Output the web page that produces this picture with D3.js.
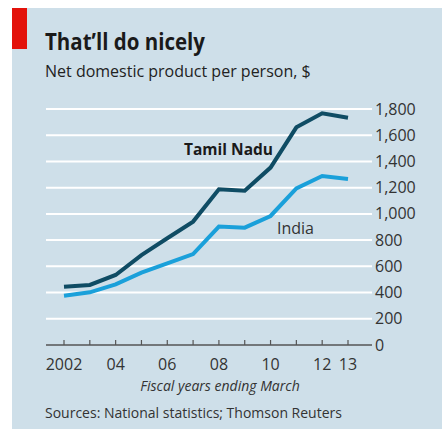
<!DOCTYPE html>
<html><head><meta charset="utf-8">
<script src="https://cdn.jsdelivr.net/npm/d3@7"></script>
<style>body{margin:0;background:#fff}svg{display:block}</style>
</head><body>
<svg id="c" width="442" height="429"></svg>
<script>
const years = [2002,2003,2004,2005,2006,2007,2008,2009,2010,2011,2012,2013];
const tamilNadu = [445,458,534,686,814,941,1187,1177,1353,1660,1767,1734];
const india = [376,402,463,552,623,694,903,895,984,1195,1289,1266];
const yTicks = [0,200,400,600,800,1000,1200,1400,1600,1800];
const xTickLabels = {2002:"2002",2004:"04",2006:"06",2008:"08",2010:"10",2012:"12",2013:"13"};

const font = "'Open Sans',sans-serif";
const svg = d3.select("#c");
svg.append("rect").attr("x",12).attr("y",8).attr("width",430).attr("height",421).attr("fill","#cedfe9");
svg.append("rect").attr("x",12).attr("y",8).attr("width",15).attr("height",41).attr("fill","#e3120b");

svg.append("text").attr("x",45).attr("y",50).text("That\u2019ll do nicely")
  .attr("font-family",font).attr("font-weight","bold").attr("font-size",23).attr("fill","#1a1a1a")
  .attr("textLength",160).attr("lengthAdjust","spacingAndGlyphs");
svg.append("text").attr("x",45).attr("y",77).text("Net domestic product per person, $")
  .attr("font-family",font).attr("font-size",16).attr("fill","#222");

const x = d3.scaleLinear().domain([2002,2013]).range([64,348]);
const y = d3.scaleLinear().domain([0,1800]).range([345,109]);
const left = 46, right = 372;

const g = svg.append("g");
g.selectAll("line.grid").data(yTicks.filter(d=>d>0)).join("line")
  .attr("x1",left).attr("x2",right).attr("y1",d=>y(d)).attr("y2",d=>y(d))
  .attr("stroke","#fff").attr("stroke-width",2);

g.selectAll("text.yl").data(yTicks).join("text")
  .attr("x",375).attr("y",d=>y(d)+5.5).text(d=>d3.format(",")(d))
  .attr("font-family",font).attr("font-size",16).attr("fill","#333");

g.append("line").attr("x1",left).attr("x2",right).attr("y1",y(0)).attr("y2",y(0))
  .attr("stroke","#555").attr("stroke-width",1.5);
g.selectAll("line.tick").data(years).join("line")
  .attr("x1",d=>x(d)).attr("x2",d=>x(d)).attr("y1",y(0)).attr("y2",y(0)-5)
  .attr("stroke","#555").attr("stroke-width",1.2);

g.selectAll("text.xl").data(years.filter(d=>xTickLabels[d])).join("text")
  .attr("x",d=>x(d)).attr("y",370).attr("text-anchor","middle").text(d=>xTickLabels[d])
  .attr("font-family",font).attr("font-size",16).attr("fill","#333");

svg.append("text").attr("x",220).attr("y",391).attr("text-anchor","middle").text("Fiscal years ending March")
  .attr("font-family",font).attr("font-style","italic").attr("font-size",14).attr("fill","#333");
svg.append("text").attr("x",45).attr("y",418).text("Sources: National statistics; Thomson Reuters")
  .attr("font-family",font).attr("font-size",14).attr("fill","#333");

const line = d3.line().x((d,i)=>x(years[i])).y(d=>y(d));
g.append("path").datum(india).attr("d",line).attr("fill","none").attr("stroke","#1aa0da").attr("stroke-width",4);
g.append("path").datum(tamilNadu).attr("d",line).attr("fill","none").attr("stroke","#0f4c64").attr("stroke-width",4);

svg.append("text").attr("x",184).attr("y",155).text("Tamil Nadu")
  .attr("font-family",font).attr("font-weight","bold").attr("font-size",15.5).attr("fill","#1a1a1a");
svg.append("text").attr("x",277).attr("y",234).text("India")
  .attr("font-family",font).attr("font-size",16).attr("fill","#333");
</script>
</body></html>
